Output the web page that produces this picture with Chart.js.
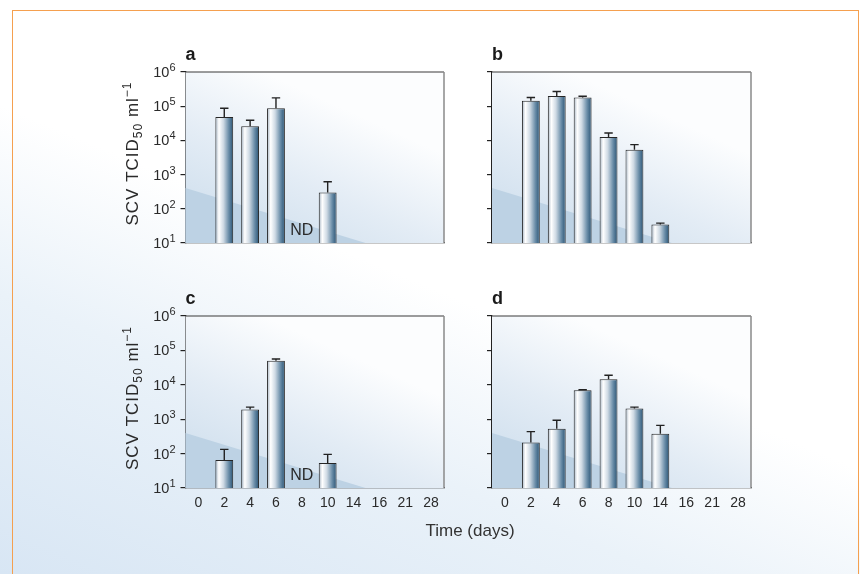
<!DOCTYPE html>
<html>
<head>
<meta charset="utf-8">
<script src="https://cdn.jsdelivr.net/npm/chart.js@4.4.0/dist/chart.umd.min.js"></script>
<style>
  html, body { margin: 0; padding: 0; }
  body {
    width: 860px; height: 574px; overflow: hidden; position: relative;
    font-family: 'Liberation Sans', Arial, sans-serif;
    background: linear-gradient(203deg, #ffffff 0%, #ffffff 50%, #eaf2f9 70%, #d8e6f4 100%);
  }
  #frame { position: absolute; left: 12px; top: 10px; width: 845px; height: 640px; border: 1.5px solid #f5a04f; }
  canvas { position: absolute; }
  #xtitle { position: absolute; left: 370px; width: 200px; top: 521px; line-height: 20px;
            text-align: center; font-size: 17px; color: #333; }
</style>
</head>
<body>
<div id="frame"></div>
<canvas id="pa" width="360" height="240" style="left:110px;top:30px"></canvas>
<canvas id="pb" width="360" height="240" style="left:470px;top:30px"></canvas>
<canvas id="pc" width="360" height="250" style="left:110px;top:274px"></canvas>
<canvas id="pd" width="360" height="250" style="left:470px;top:274px"></canvas>
<div id="xtitle">Time (days)</div>
<script>
// dias pos-infeccao
const days = ['0', '2', '4', '6', '8', '10', '14', '16', '21', '28'];
const yTicks = [10, 100, 1000, 10000, 100000, 1000000];

// titulos (TCID50/ml) e topo da barra de erro
const valuesA = [null, 48000, 26000, 87000, null, 300, null, null, null, null];
const upperA  = [null, 87000, 39000, 175000, null, 620, null, null, null, null];
const ndA = ['8'];

const valuesB = [null, 145000, 200000, 180000, 12500, 5300, 35, null, null, null];
const upperB  = [null, 180000, 270000, 195000, 16500, 7500, 38, null, null, null];

const valuesC = [null, 65, 1900, 50000, null, 53, null, null, null, null];
const upperC  = [null, 133, 2250, 56000, null, 95, null, null, null, null];
const ndC = ['8'];

const valuesD = [null, 210, 530, 6900, 14500, 2050, 380, null, null, null];
const upperD  = [null, 435, 930, 7200, 19000, 2250, 660, null, null, null];

const FONT = "'Liberation Sans', Arial, sans-serif";
const BAR_PCT = 0.69;

function barGradient(context) {
  const chart = context.chart;
  const xs = chart.scales.x;
  if (!xs || !chart.chartArea || context.dataIndex === undefined) return '#8aa3b8';
  const cx = xs.getPixelForValue(context.dataIndex);
  const w = (xs.width / days.length) * BAR_PCT;
  const g = chart.ctx.createLinearGradient(cx - w / 2, 0, cx + w / 2, 0);
  g.addColorStop(0, '#a3b2c1');
  g.addColorStop(0.2, '#ffffff');
  g.addColorStop(0.45, '#cfdae4');
  g.addColorStop(0.75, '#6a8da8');
  g.addColorStop(0.92, '#3d6584');
  g.addColorStop(1, '#4a6f8e');
  return g;
}

const panelDeco = {
  id: 'panelDeco',
  beforeDatasetsDraw(chart) {
    const { ctx, chartArea: a } = chart;
    ctx.save();
    const g = ctx.createLinearGradient(a.left, a.bottom, a.left + a.width * 0.3, a.top);
    g.addColorStop(0, '#c9dbeb');
    g.addColorStop(0.55, '#e3ecf5');
    g.addColorStop(1, '#fcfdfe');
    ctx.fillStyle = g;
    ctx.fillRect(a.left, a.top, a.width, a.height);
    // faixa mais escura no canto inferior esquerdo
    ctx.fillStyle = '#bdd2e4';
    ctx.beginPath();
    ctx.moveTo(a.left, a.bottom - 55);
    ctx.lineTo(a.left + 180, a.bottom);
    ctx.lineTo(a.left, a.bottom);
    ctx.closePath();
    ctx.fill();
    ctx.restore();
  },
  afterDatasetsDraw(chart, args, o) {
    const { ctx, chartArea: a } = chart;
    const xs = chart.scales.x, ys = chart.scales.y;
    const meta = chart.getDatasetMeta(0);
    const vals = chart.data.datasets[0].data;
    ctx.save();
    ctx.strokeStyle = '#222';
    ctx.lineWidth = 1.4;
    ctx.beginPath();
    meta.data.forEach((bar, i) => {
      if (vals[i] == null || o.upper[i] == null) return;
      const yt = ys.getPixelForValue(o.upper[i]);
      ctx.moveTo(bar.x, bar.y);
      ctx.lineTo(bar.x, yt);
      ctx.moveTo(bar.x - 4.2, yt);
      ctx.lineTo(bar.x + 4.2, yt);
    });
    ctx.stroke();
    ctx.fillStyle = '#2a2a2a';
    ctx.font = '16px ' + FONT;
    ctx.textAlign = 'center';
    ctx.textBaseline = 'middle';
    (o.nd || []).forEach(lbl => {
      const x = xs.getPixelForValue(days.indexOf(lbl));
      ctx.fillText('ND', x, a.bottom - 12);
    });
    ctx.restore();
  },
  afterDraw(chart, args, o) {
    const { ctx, chartArea: a } = chart;
    const ys = chart.scales.y;
    ctx.save();
    // moldura superior e direita
    ctx.strokeStyle = '#3a3a3a';
    ctx.lineWidth = 1.2;
    ctx.beginPath();
    ctx.moveTo(a.left, a.top);
    ctx.lineTo(a.right, a.top);
    ctx.stroke();
    ctx.strokeStyle = '#8a8a8a';
    ctx.lineWidth = 1.5;
    ctx.beginPath();
    ctx.moveTo(a.right, a.top);
    ctx.lineTo(a.right, a.bottom);
    ctx.stroke();

    // letra do painel
    ctx.fillStyle = '#1a1a1a';
    ctx.font = 'bold 18px ' + FONT;
    ctx.textAlign = 'left';
    ctx.textBaseline = 'alphabetic';
    ctx.fillText(o.letter, a.left, a.top - 12);

    if (o.showY) {
      // rotulos 10^n
      ctx.fillStyle = '#2a2a2a';
      yTicks.forEach(v => {
        const y = ys.getPixelForValue(v);
        const exp = String(Math.round(Math.log10(v)));
        ctx.font = '11px ' + FONT;
        const ew = ctx.measureText(exp).width;
        ctx.font = '14.5px ' + FONT;
        const bw = ctx.measureText('10').width;
        const xr = a.left - 10;
        ctx.textAlign = 'left';
        ctx.textBaseline = 'middle';
        ctx.fillText('10', xr - ew - bw, y + 1);
        ctx.font = '11px ' + FONT;
        ctx.fillText(exp, xr - ew, y - 4);
      });

      // titulo do eixo y com indice e expoente
      const parts = [
        { t: 'SCV TCID', size: 17, dy: 0 },
        { t: '50', size: 12, dy: 4 },
        { t: ' ml', size: 17, dy: 0 },
        { t: '\u22121', size: 12, dy: -7 }
      ];
      ctx.letterSpacing = '1px';
      let total = 0;
      parts.forEach(p => { ctx.font = p.size + 'px ' + FONT; p.w = ctx.measureText(p.t).width; total += p.w; });
      ctx.translate(a.left - 48, (a.top + a.bottom) / 2 - 4);
      ctx.rotate(-Math.PI / 2);
      ctx.textAlign = 'left';
      ctx.textBaseline = 'alphabetic';
      let u = -total / 2;
      parts.forEach(p => {
        ctx.font = p.size + 'px ' + FONT;
        ctx.fillText(p.t, u, p.dy);
        u += p.w;
      });
    }
    ctx.restore();
  }
};

function criarPainel(id, pos, area, letter, values, upper, nd, showY, showX) {
  const Y_W = 8, X_H = 30;
  new Chart(document.getElementById(id), {
    type: 'bar',
    data: {
      labels: days,
      datasets: [{
        data: values,
        backgroundColor: barGradient,
        borderColor: '#262626',
        borderWidth: 1,
        borderSkipped: 'bottom',
        barPercentage: BAR_PCT,
        categoryPercentage: 1
      }]
    },
    options: {
      responsive: false,
      animation: false,
      layout: {
        padding: {
          left: area.l - pos.x - Y_W,
          right: pos.x + pos.w - area.r,
          top: area.t - pos.y,
          bottom: pos.y + pos.h - area.b - X_H
        }
      },
      plugins: {
        legend: { display: false },
        tooltip: { enabled: false },
        panelDeco: { letter: letter, upper: upper, nd: nd, showY: showY }
      },
      scales: {
        x: {
          type: 'category',
          grid: { display: false, drawTicks: false },
          border: { color: '#222', width: 1.3 },
          ticks: {
            display: showX, color: '#2a2a2a', padding: 7,
            maxRotation: 0, autoSkip: false,
            font: { family: FONT, size: 14 }
          },
          afterFit: s => { s.height = X_H; }
        },
        y: {
          type: 'logarithmic',
          min: 10,
          max: 1000000,
          grid: { drawOnChartArea: false, drawTicks: true, tickLength: 5, color: '#222', lineWidth: 1.2 },
          border: { color: '#222', width: 1.3 },
          ticks: { display: false },
          afterBuildTicks: s => { s.ticks = yTicks.map(v => ({ value: v })); },
          afterFit: s => { s.width = Y_W; }
        }
      }
    },
    plugins: [panelDeco]
  });
}

criarPainel('pa', { x: 110, y: 30, w: 360, h: 240 }, { l: 185.5, t: 72, r: 444, b: 243 }, 'a', valuesA, upperA, ndA, true, false);
criarPainel('pb', { x: 470, y: 30, w: 360, h: 240 }, { l: 492, t: 72, r: 751, b: 243 }, 'b', valuesB, upperB, [], false, false);
criarPainel('pc', { x: 110, y: 274, w: 360, h: 250 }, { l: 185.5, t: 316, r: 444, b: 488 }, 'c', valuesC, upperC, ndC, true, true);
criarPainel('pd', { x: 470, y: 274, w: 360, h: 250 }, { l: 492, t: 316, r: 751, b: 488 }, 'd', valuesD, upperD, [], false, true);
</script>
</body>
</html>
